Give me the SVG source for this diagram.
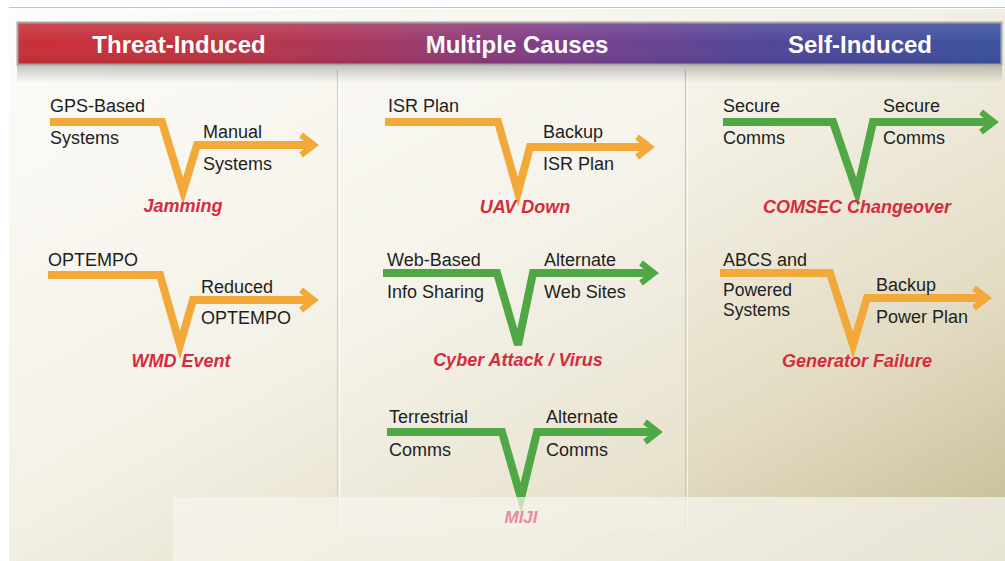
<svg xmlns="http://www.w3.org/2000/svg" width="1005" height="561" viewBox="0 0 1005 561">
  <defs>
    <linearGradient id="bg" x1="0" y1="0" x2="1" y2="1">
      <stop offset="0" stop-color="#fdfcf9"/>
      <stop offset="0.45" stop-color="#f4f1e7"/>
      <stop offset="0.75" stop-color="#e3dcc3"/>
      <stop offset="1" stop-color="#c2ba93"/>
    </linearGradient>
    <linearGradient id="bar" x1="0" y1="0" x2="1" y2="0">
      <stop offset="0" stop-color="#c92f38"/>
      <stop offset="0.18" stop-color="#c2333f"/>
      <stop offset="0.35" stop-color="#a8375f"/>
      <stop offset="0.55" stop-color="#7c3f8c"/>
      <stop offset="0.75" stop-color="#524699"/>
      <stop offset="1" stop-color="#3b52a0"/>
    </linearGradient>
    <linearGradient id="shadow" x1="0" y1="0" x2="0" y2="1">
      <stop offset="0" stop-color="#000" stop-opacity="0.22"/>
      <stop offset="1" stop-color="#000" stop-opacity="0"/>
    </linearGradient>
    <linearGradient id="barshine" x1="0" y1="0" x2="0" y2="1">
      <stop offset="0" stop-color="#fff" stop-opacity="0.12"/>
      <stop offset="0.5" stop-color="#fff" stop-opacity="0"/>
      <stop offset="1" stop-color="#000" stop-opacity="0.08"/>
    </linearGradient>
    <style>
      .t{font-family:"Liberation Sans",Arial,sans-serif;font-size:18px;fill:#1e1e1e}
      .ev{font-family:"Liberation Sans",Arial,sans-serif;font-size:18px;font-weight:bold;font-style:italic;fill:#d52c3d;text-anchor:middle}
      .hd{font-family:"Liberation Sans",Arial,sans-serif;font-size:24px;font-weight:bold;fill:#ffffff;text-anchor:middle}
      .o{fill:none;stroke:#f3a93a;stroke-width:8;stroke-linejoin:miter;stroke-linecap:butt}
      .g{fill:none;stroke:#4fa845;stroke-width:8;stroke-linejoin:miter;stroke-linecap:butt}
      .ho{fill:none;stroke:#f3a93a;stroke-width:6;stroke-linejoin:miter}
      .hg{fill:none;stroke:#4fa845;stroke-width:6;stroke-linejoin:miter}
    </style>
  </defs>

  <!-- page -->
  <rect x="0" y="0" width="1005" height="561" fill="#ffffff"/>
  <rect x="9" y="9" width="996" height="552" fill="url(#bg)"/>
  <line x1="9" y1="7.5" x2="1005" y2="7.5" stroke="#c4c4c4" stroke-width="1"/>

  <!-- column panels / dividers -->
  <rect x="339" y="70" width="347" height="460" fill="#ffffff" opacity="0.18"/>
  <line x1="337.5" y1="70" x2="337.5" y2="530" stroke="#d6d2c6" stroke-width="1.2"/>
  <line x1="339.5" y1="70" x2="339.5" y2="530" stroke="#ffffff" stroke-width="1.2" opacity="0.8"/>
  <line x1="685.5" y1="70" x2="685.5" y2="530" stroke="#d0cbb9" stroke-width="1.2"/>
  <line x1="687.5" y1="70" x2="687.5" y2="530" stroke="#ffffff" stroke-width="1.2" opacity="0.6"/>

  <!-- header bar -->
  <g id="header">
    <rect x="17" y="65" width="985" height="18" fill="url(#shadow)"/>
    <rect x="17.5" y="22.5" width="984" height="42" fill="url(#bar)" stroke="#aaa6a8" stroke-width="2"/>
    <rect x="18.5" y="23.5" width="982" height="40" fill="url(#barshine)"/>
    <text class="hd" x="179" y="53">Threat-Induced</text>
    <text class="hd" x="517" y="53">Multiple Causes</text>
    <text class="hd" x="860" y="53">Self-Induced</text>
  </g>

  <!-- connectors -->
  <g id="connectors">
    <path class="o" d="M50 122 H162 L183 191 L197 145 H312"/>
    <path class="ho" d="M301 135 L314 145 L301 155"/>
    <path class="o" d="M48 275 H160 L180 345 L193 300 H312"/>
    <path class="ho" d="M301 290 L314 300 L301 310"/>
    <path class="o" d="M385 122 H498 L518 192 L530 147 H648"/>
    <path class="ho" d="M637 137 L650 147 L637 157"/>
    <path class="g" d="M383 273 H497 L518 345 L533 273 H652"/>
    <path class="hg" d="M641 263 L654 273 L641 283"/>
    <path class="g" d="M387 432 H502 L521 498 L537 432 H656"/>
    <path class="hg" d="M645 422 L658 432 L645 442"/>
    <path class="g" d="M723 122 H833 L857 192 L873 122 H992"/>
    <path class="hg" d="M981 112 L994 122 L981 132"/>
    <path class="o" d="M720 273 H830 L853 345 L867 298 H985"/>
    <path class="ho" d="M974 288 L987 298 L974 308"/>
  </g>

  <g id="jamming">
    <text class="t" x="50" y="112">GPS-Based</text>
    <text class="t" x="50" y="144">Systems</text>
    <text class="t" x="203" y="138">Manual</text>
    <text class="t" x="203" y="170">Systems</text>
    <text class="ev" x="183" y="212">Jamming</text>
  </g>
  <g id="wmd-event">
    <text class="t" x="48" y="266">OPTEMPO</text>
    <text class="t" x="201" y="293">Reduced</text>
    <text class="t" x="201" y="324">OPTEMPO</text>
    <text class="ev" x="181" y="367">WMD Event</text>
  </g>
  <g id="uav-down">
    <text class="t" x="388" y="112">ISR Plan</text>
    <text class="t" x="543" y="138">Backup</text>
    <text class="t" x="543" y="170">ISR Plan</text>
    <text class="ev" x="525" y="213">UAV Down</text>
  </g>
  <g id="cyber-attack">
    <text class="t" x="387" y="266">Web-Based</text>
    <text class="t" x="387" y="298">Info Sharing</text>
    <text class="t" x="544" y="266">Alternate</text>
    <text class="t" x="544" y="298">Web Sites</text>
    <text class="ev" x="518" y="366">Cyber Attack / Virus</text>
  </g>
  <g id="comsec-changeover">
    <text class="t" x="723" y="112">Secure</text>
    <text class="t" x="723" y="144">Comms</text>
    <text class="t" x="883" y="112">Secure</text>
    <text class="t" x="883" y="144">Comms</text>
    <text class="ev" x="857" y="213">COMSEC Changeover</text>
  </g>
  <g id="generator-failure">
    <text class="t" x="723" y="266">ABCS and</text>
    <text class="t" x="723" y="296" style="font-size:17.5px">Powered</text>
    <text class="t" x="723" y="316" style="font-size:17.5px">Systems</text>
    <text class="t" x="876" y="291">Backup</text>
    <text class="t" x="876" y="323">Power Plan</text>
    <text class="ev" x="857" y="367">Generator Failure</text>
  </g>
  <g id="miji">
    <text class="t" x="389" y="423">Terrestrial</text>
    <text class="t" x="389" y="456">Comms</text>
    <text class="t" x="546" y="423">Alternate</text>
    <text class="t" x="546" y="456">Comms</text>
  </g>

  <!-- translucent bottom overlay -->
  <rect x="173" y="497" width="832" height="64" fill="#f6f4ed" opacity="0.72"/>
  <text class="ev" x="521" y="523" style="fill:#e98aa2;font-size:17px">MIJI</text>
</svg>
